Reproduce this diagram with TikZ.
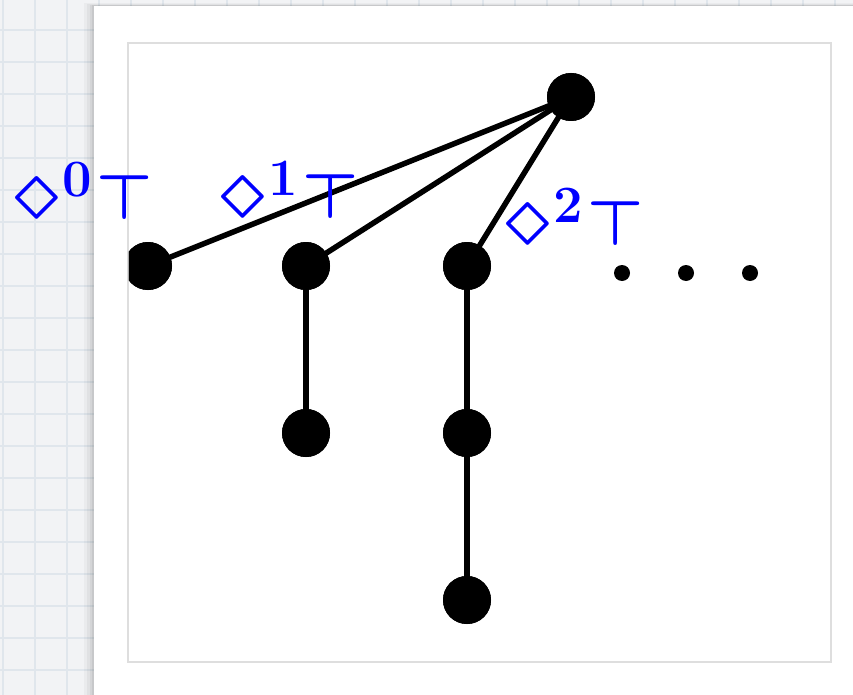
\documentclass[tikz,border=0pt]{standalone}
\usepackage{latexsym}
\usepackage{graphicx}
\DeclareMathSizes{24.88}{24.88}{20.74}{14.4}
\definecolor{bgc}{RGB}{242,243,245}
\definecolor{gridc}{RGB}{224,230,236}
\definecolor{framec}{RGB}{222,222,222}
\definecolor{lblue}{RGB}{0,0,255}
\newcommand{\biglbl}[1]{\scalebox{2.53}{\fontsize{24.88}{26}\selectfont\boldmath$\Diamond^{\mathbf{#1}}\mkern1mu\top$}}
\begin{document}
\begin{tikzpicture}[x=1pt,y=-1pt,
  vert/.style={circle,fill=black,inner sep=0pt,minimum size=48pt},
  dotnode/.style={circle,fill=black,inner sep=0pt,minimum size=16pt},
  edge/.style={line width=5.5pt,black},
  lbl/.style={text=lblue,inner sep=0pt,anchor=base west}]
\useasboundingbox (0,0) rectangle (853,695);
% background grid
\fill[bgc] (0,0) rectangle (853,695);
\foreach \gx in {3,35,...,853} \draw[gridc,line width=1.2pt] (\gx,0) -- (\gx,695);
\foreach \gy in {30,62,...,695} \draw[gridc,line width=1.2pt] (0,\gy) -- (853,\gy);
% panel shadow
\foreach \s/\o in {10/0.03,7/0.04,4/0.05,2/0.06} \fill[black,opacity=\o] (94-\s,6-\s*0.3) rectangle (853,695);
% panel
\fill[white] (94,6) rectangle (853,695);
% inner frame
\draw[framec,line width=1.5pt] (128,43) rectangle (831,662);
\begin{scope}
\clip (128.8,43.8) rectangle (830.2,661.2);
\node[vert] (r) at (571,97) {};
\node[vert] (a) at (148,266) {};
\node[vert] (b) at (306,266) {};
\node[vert] (c) at (467,266) {};
\node[vert] (b1) at (306,433) {};
\node[vert] (c1) at (467,433) {};
\node[vert] (c2) at (467,600) {};
\draw[edge] (r.center) -- (a.center);
\draw[edge] (r.center) -- (b.center);
\draw[edge] (r.center) -- (c.center);
\draw[edge] (b.center) -- (b1.center);
\draw[edge] (c.center) -- (c1.center);
\draw[edge] (c1.center) -- (c2.center);
\node[vert] at (r) {};
\node[vert] at (a) {};
\node[vert] at (b) {};
\node[vert] at (c) {};
\node[vert] at (b1) {};
\node[vert] at (c1) {};
\node[vert] at (c2) {};
\node[dotnode] (d1) at (622,273) {};
\node[dotnode] (d2) at (686,273) {};
\node[dotnode] (d3) at (750,273) {};
\end{scope}
% labels
\node[lbl] (l0) at (11,219) {\biglbl{0}};
\node[lbl] (l1) at (217,218) {\biglbl{1}};
\node[lbl] (l2) at (502,245) {\biglbl{2}};
\end{tikzpicture}
\end{document}
